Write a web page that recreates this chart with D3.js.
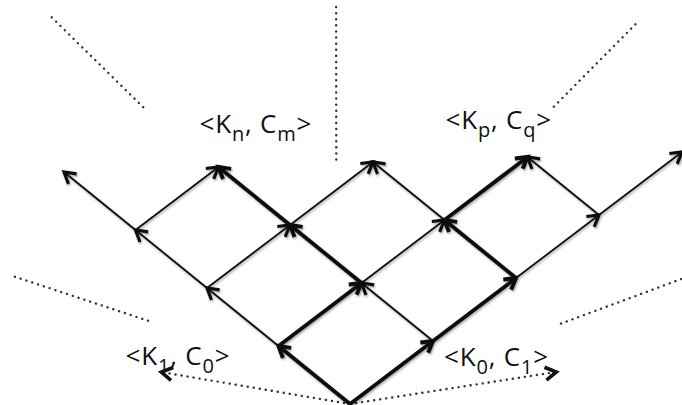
<!DOCTYPE html>
<html>
<head>
    <title>Lattice</title>
    <script src="https://d3js.org/d3.v7.min.js"></script>
    <style>
        body { margin: 0; background: #fff; }
        text { font-family: "Open Sans", sans-serif; fill: #111; }
    </style>
</head>
<body>
<svg id="chart" width="682" height="405"></svg>

<script>
    ///////////////////////////////DATA/////////////////////////////////////////////
    // lattice steps: i = one step up-left, j = one step up-right
    var thickEdges = [
        [0,0, 1,0], [1,0, 1,1], [1,1, 2,1], [2,1, 3,1],
        [0,0, 0,1], [0,1, 0,2], [0,2, 1,2], [1,2, 1,3]
    ];
    var thinEdges = [
        [1,0, 2,0], [2,0, 3,0], [3,0, 4,0],
        [2,0, 2,1], [3,0, 3,1],
        [0,1, 1,1], [1,1, 1,2], [2,1, 2,2], [1,2, 2,2],
        [0,2, 0,3], [0,3, 0,4], [0,3, 1,3]
    ];
    // dotted guides, ends given in lattice units
    var dottedGuides = [
        [5.46, 1.11, 4.04, 0.99],
        [3.63, 2.96, 2.27, 1.79],
        [1.27, 3.55, 1.46, 4.74],
        [3.40, -1.11, 2.06, -0.60],
        [-0.71, 1.93, -1.13, 3.03]
    ];
    var dottedArrows = [
        [0, 0, 1.56, -0.93],
        [0, 0, -1.11, 1.53]
    ];
    // labels: [main, sub, main, sub, main] and the node they sit by
    var labels = [
        {node: [3,1], parts: ["<K", "n", ", C", "m", ">"]},
        {node: [1,3], parts: ["<K", "p", ", C", "q", ">"]},
        {node: [1,0], parts: ["<K", "1", ", C", "0", ">"]},
        {node: [0,1], parts: ["<K", "0", ", C", "1", ">"]}
    ];

    /////////////////SCALES/////////////////////////////////////////////////////////
    var xi = d3.scaleLinear().domain([0,4]).range([0,-286]);
    var xj = d3.scaleLinear().domain([0,4]).range([0,332]);
    var yi = d3.scaleLinear().domain([0,4]).range([0,-232]);
    var yj = d3.scaleLinear().domain([0,4]).range([0,-252]);
    function px(i,j){ return xi(i) + xj(j); }
    function py(i,j){ return yi(i) + yj(j); }

    var svg = d3.select("#chart");
    var defs = svg.append("defs");

    var f = defs.append("filter").attr("id","soft")
        .attr("x","-20%").attr("y","-20%").attr("width","140%").attr("height","140%");
    f.append("feDropShadow").attr("dx",1).attr("dy",1.5)
        .attr("stdDeviation",1.2).attr("flood-color","#000").attr("flood-opacity",0.35);

    function marker(id, w){
        defs.append("marker")
            .attr("id", id)
            .attr("viewBox","-16 -10 20 20")
            .attr("markerWidth",20).attr("markerHeight",20)
            .attr("refX",0).attr("refY",0)
            .attr("orient","auto")
            .attr("markerUnits","userSpaceOnUse")
          .append("path")
            .attr("d","M-11,-6.5L0,0L-11,6.5")
            .attr("fill","none")
            .attr("stroke","#111")
            .attr("stroke-width", w)
            .attr("stroke-linejoin","miter");
    }
    marker("headThin", 3.2);
    marker("headThick", 4);
    marker("headDot", 3.6);

    var g = svg.append("g").attr("transform","translate(350,404)");

    /////////////////DOTTED GUIDES//////////////////////////////////////////////////
    g.selectAll(".guide")
        .data(dottedGuides)
        .enter().append("line")
        .attr("class","guide")
        .attr("x1", d => px(d[0],d[1])).attr("y1", d => py(d[0],d[1]))
        .attr("x2", d => px(d[2],d[3])).attr("y2", d => py(d[2],d[3]))
        .attr("stroke","#333")
        .attr("stroke-width",2.4)
        .attr("stroke-linecap","round")
        .attr("stroke-dasharray","0.1,6");

    g.selectAll(".dotarrow")
        .data(dottedArrows)
        .enter().append("line")
        .attr("class","dotarrow")
        .attr("x1", d => px(d[0],d[1])).attr("y1", d => py(d[0],d[1]))
        .attr("x2", d => px(d[2],d[3])).attr("y2", d => py(d[2],d[3]))
        .attr("stroke","#333")
        .attr("stroke-width",2.4)
        .attr("stroke-linecap","round")
        .attr("stroke-dasharray","0.1,6")
        .attr("marker-end","url(#headDot)");

    /////////////////EDGES//////////////////////////////////////////////////////////
    var edgeLayer = g.append("g").attr("filter","url(#soft)");

    function drawEdges(data, cls, w, head){
        edgeLayer.selectAll("." + cls)
            .data(data)
            .enter().append("line")
            .attr("class", cls)
            .attr("x1", d => px(d[0],d[1])).attr("y1", d => py(d[0],d[1]))
            .attr("x2", d => px(d[2],d[3])).attr("y2", d => py(d[2],d[3]))
            .attr("stroke","#111")
            .attr("stroke-width", w)
            .attr("marker-end","url(#" + head + ")");
    }
    drawEdges(thinEdges, "thin", 1.8, "headThin");
    drawEdges(thickEdges, "thick", 3.8, "headThick");

    /////////////////LABELS/////////////////////////////////////////////////////////
    var offsets = [[-19,-34], [-82,-28], [-153,19], [11,25]];

    labels.forEach((lab, k) => {
        var t = g.append("text")
            .attr("x", px(lab.node[0], lab.node[1]) + offsets[k][0])
            .attr("y", py(lab.node[0], lab.node[1]) + offsets[k][1])
            .attr("font-size", 26)
            .attr("letter-spacing", 0.8);
        lab.parts.forEach((p, n) => {
            var s = t.append("tspan").text(p);
            if (n % 2 == 1) s.attr("font-size", 20).attr("dy", 8);
            else if (n > 0) s.attr("dy", -8);
        });
    });
</script>
</body>
</html>
